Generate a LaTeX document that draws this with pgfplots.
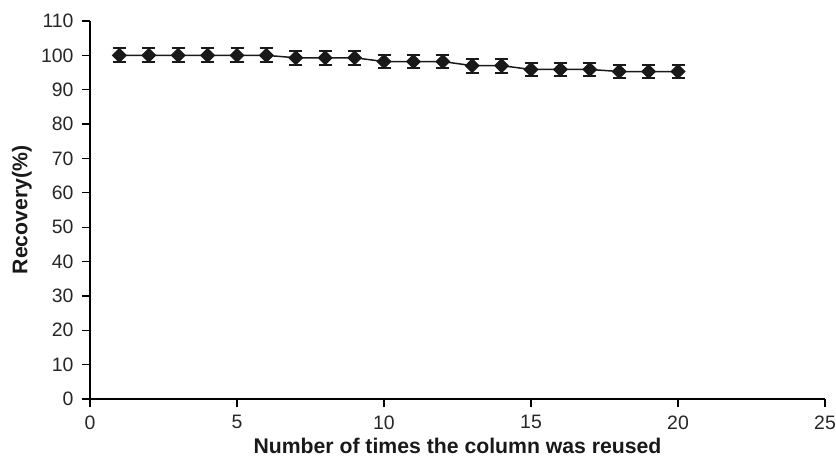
\documentclass[border=0pt]{standalone}
\usepackage{pgfplots}
\pgfplotsset{compat=1.18}
\usepackage{fontspec}
\setmainfont{Liberation Sans}
\newcommand{\tickfont}{\fontsize{19.5}{22}\selectfont}
\begin{document}
\begin{tikzpicture}
\begin{axis}[
  at={(0,0)}, anchor=south west,
  scale only axis,
  width=735bp, height=378bp,
  xmin=0, xmax=25, ymin=0, ymax=110,
  xtick={0,5,...,25}, ytick={0,10,...,110},
  axis x line*=bottom, axis y line*=left,
  axis line style={line width=1.5pt},
  tick style={line width=1.2pt, black},
  tick align=outside,
  major tick length=8bp,
  x axis line style={-}, y axis line style={-},
  /pgf/number format/assume math mode=true,
  xticklabel={\tickfont\pgfmathprintnumber{\tick}},
  yticklabel={\tickfont\pgfmathprintnumber{\tick}},
  tick label style={text=black!85},
  xticklabel style={yshift=-5bp},
  yticklabel style={xshift=-5bp},
  xlabel={\textbf{Number of times the column was reused}},
  ylabel={\textbf{Recovery(\%)}},
  label style={font=\fontsize{21.3}{24}\selectfont, text=black!90},
  xlabel style={at={([yshift=-47bp]axis description cs:0.5,0)}, anchor=center},
  ylabel style={at={([xshift=-68bp]axis description cs:0,0.5)}, anchor=center},
  clip=false,
]
\addplot[black!90, line width=1.5pt, mark=square*, mark size=4.6bp,
  mark options={fill=black!90, solid, rotate=45},
  error bars/.cd, y dir=both, y explicit,
  error bar style={line width=1.5pt, black!90},
  error mark options={rotate=90, mark size=6.5bp, line width=2pt, black!90}]
coordinates {
(1,100) +- (0,2)
(2,100) +- (0,2)
(3,100) +- (0,2)
(4,100) +- (0,2)
(5,100) +- (0,2)
(6,100) +- (0,2)
(7,99.3) +- (0,2)
(8,99.3) +- (0,2)
(9,99.3) +- (0,2)
(10,98.2) +- (0,2)
(11,98.2) +- (0,2)
(12,98.2) +- (0,2)
(13,97) +- (0,2)
(14,97) +- (0,2)
(15,95.9) +- (0,2)
(16,95.9) +- (0,2)
(17,95.9) +- (0,2)
(18,95.3) +- (0,2)
(19,95.3) +- (0,2)
(20,95.3) +- (0,2)
};
\end{axis}
\pgfresetboundingbox
\path (-90bp,-58bp) rectangle (746bp,399bp);
\end{tikzpicture}
\end{document}
